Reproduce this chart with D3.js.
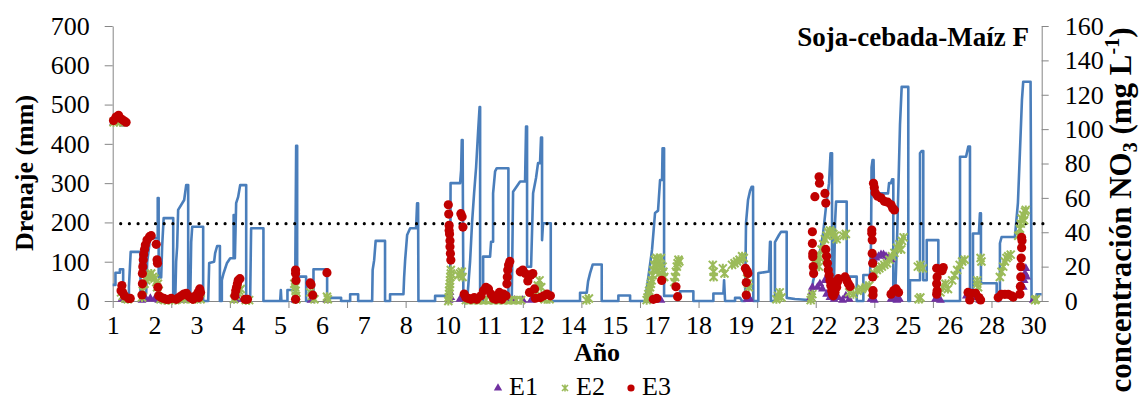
<!DOCTYPE html>
<html><head><meta charset="utf-8">
<script src="https://cdn.jsdelivr.net/npm/d3@7"></script>
<style>body{margin:0;background:#fff}</style>
</head><body>
<svg id="c" width="1144" height="402"></svg>
<script>
// ---- data ----
const xLabels = ["1","2","3","4","5","6","7","8","10","11","12","14","15","17","18","19","21","22","23","25","26","28","30"];
const leftTicks = [0,100,200,300,400,500,600,700];
const rightTicks = [0,20,40,60,80,100,120,140,160];
const umbralNO3 = 45;
const chartTitle = "Soja-cebada-Maíz F";
const seriesNames = ["E1","E2","E3"];

// drainage (mm) along the period index
const drenaje = [[0,41],[0.33,41],[0.33,72],[0.86,72],[0.86,81],[1.25,81],[1.25,0],[1.94,0],[1.94,37],[2.15,125],[3.32,125],[3.32,20],[4.0,20],[4.12,100],[4.48,160],[5.38,160],[5.38,262],[5.49,262],[5.49,60],[5.79,60],[5.91,140],[6.09,211],[7.23,211],[7.23,0],[7.47,0],[7.58,100],[7.70,138],[7.82,232],[8.54,257],[8.78,295],[9.02,295],[9.02,0],[9.26,0],[9.38,150],[9.50,189],[10.81,189],[10.81,0],[11.41,0],[11.53,97],[12.12,100],[12.24,122],[12.48,140],[12.81,140],[12.81,0],[13.04,0],[13.04,53],[13.24,70],[13.64,96],[14.04,109],[14.45,109],[14.45,219],[14.60,219],[14.60,109],[14.75,249],[14.99,265],[15.23,295],[15.95,295],[15.95,0],[16.42,0],[16.54,185],[18.01,185],[18.01,0],[20.01,0],[20.09,28],[20.16,0],[20.88,0],[20.88,28],[21.80,28],[21.92,395],[22.04,395],[22.04,62],[23.11,62],[23.11,0],[23.99,0],[23.99,81],[25.62,81],[25.62,8],[27.29,8],[27.29,0],[28.37,0],[28.37,17],[29.33,17],[29.33,0],[31.00,0],[31.06,79],[31.24,104],[31.42,153],[32.54,153],[32.54,0],[33.14,0],[33.14,17],[34.74,17],[34.82,60],[34.94,104],[35.18,168],[35.54,185],[36.25,185],[36.37,249],[36.49,249],[36.53,0],[38.52,0],[38.52,13],[39.92,13],[39.92,0],[40.32,0],[40.37,300],[41.51,300],[41.63,333],[41.71,410],[41.81,410],[41.90,0],[42.35,0],[42.70,100],[42.94,200],[43.18,274],[43.42,340],[43.66,431],[43.84,494],[43.90,494],[43.90,0],[44.26,0],[44.26,113],[45.09,113],[45.21,151],[45.45,151],[45.45,274],[45.69,330],[45.89,338],[47.28,338],[47.28,0],[47.68,0],[47.84,278],[48.68,304],[49.27,304],[49.39,444],[49.51,444],[49.51,87],[49.99,87],[50.23,274],[50.58,313],[50.82,351],[51.06,351],[51.18,416],[51.30,416],[51.30,155],[51.42,198],[52.34,198],[52.34,0],[55.84,0],[55.84,21],[56.64,21],[56.80,50],[57.04,71],[57.36,93],[58.43,93],[58.43,0],[60.42,0],[60.42,14],[61.82,14],[61.82,0],[63.61,0],[63.85,37],[64.44,130],[64.80,224],[65.16,230],[65.40,308],[65.64,308],[65.70,389],[65.88,389],[65.88,13],[67.79,13],[67.79,25],[69.38,25],[69.38,0],[71.77,0],[71.77,19],[72.97,19],[73.05,53],[73.17,0],[74.36,0],[74.36,8],[74.96,8],[75.20,0],[75.56,0],[75.67,198],[75.91,257],[76.15,280],[76.35,291],[76.51,291],[76.54,0],[77.14,0],[77.14,71],[78.42,75],[78.54,151],[78.62,151],[78.65,0],[79.13,0],[79.13,150],[79.61,168],[79.85,176],[80.53,176],[80.53,8],[81.52,5],[82.72,3],[83.32,3],[83.44,0],[83.68,50],[84.27,100],[84.87,170],[85.23,240],[85.59,300],[85.77,376],[85.95,376],[85.95,53],[86.19,53],[86.31,200],[86.43,253],[87.70,253],[87.70,62],[88.90,62],[88.90,0],[89.69,0],[89.69,66],[90.49,66],[90.61,150],[90.67,340],[90.79,359],[90.91,359],[90.97,265],[91.45,265],[91.57,274],[92.64,274],[92.76,300],[93.00,300],[93.12,310],[93.27,310],[93.27,0],[93.47,0],[93.71,150],[93.95,350],[94.07,450],[94.27,545],[95.06,545],[95.06,0],[95.26,0],[95.26,53],[96.46,53],[96.46,376],[96.66,382],[96.85,382],[96.85,53],[97.26,53],[97.26,155],[98.65,155],[98.65,0],[101.24,0],[101.24,367],[101.96,367],[102.23,393],[102.43,393],[102.43,0],[102.79,0],[102.79,172],[103.50,172],[103.62,223],[103.74,223],[103.74,45],[105.62,45],[105.62,0],[106.01,0],[106.01,147],[106.21,163],[107.80,163],[108.16,250],[108.40,380],[108.64,512],[108.79,558],[109.67,558],[109.79,0],[110.39,0],[110.39,17],[110.99,17]];

// NO3 concentration (mg/L) per sampling
const e1 = [[0.1,104],[0.5,104],[0.9,104],[1.3,103],[1.1,1],[1.6,0.5],[3.5,0.5],[4.0,1],[4.5,1.5],[5.0,1],[5.5,0.5],[6.0,0.5],[8.0,0.5],[9.0,0.5],[10.0,0.5],[14.6,0.5],[15.0,1],[16.0,0.5],[21.8,0.5],[23.7,0.5],[25.6,0.5],[40.2,0.5],[40.4,2],[40.3,5],[41.5,1],[42.5,0.5],[43.5,0.5],[46.0,0.5],[47.0,0.5],[48.0,0.5],[49.0,0.5],[50.0,0.5],[64.0,0.5],[65.5,0.5],[75.8,1],[76.0,2],[76.1,1],[83.4,2],[83.5,5],[83.6,8],[84.2,8],[84.5,10],[84.8,7],[85.1,12],[85.3,4],[85.7,2],[86.2,1],[86.7,2],[87.2,0.5],[87.6,3],[88.0,1],[90.9,24],[91.2,25],[91.5,26],[91.8,27],[92.1,27],[92.4,26],[92.7,25],[93.0,24],[90.6,1],[90.8,2],[91.0,0.5],[93.0,1],[93.3,2],[93.7,0.5],[94.0,1],[98.3,1],[98.6,2],[98.9,0.5],[102.0,3],[102.4,1],[102.8,4],[103.2,2],[103.6,0.5],[108.8,8],[108.9,12],[109.0,16],[109.1,19],[109.2,14],[110.0,0.5]];

const e2 = [[0.1,104],[0.5,105],[0.9,104],[1.3,104],[1.0,5],[1.2,3],[1.5,1.5],[1.8,1],[3.5,2],[3.6,6],[3.8,10],[4.0,12],[4.2,14],[4.4,15],[4.6,16],[4.8,14],[5.0,13],[5.2,11],[5.4,10],[5.5,6],[5.3,8],[5.7,1],[6.2,0.5],[6.7,0.5],[7.5,0.5],[8.5,1],[9.5,1],[10.5,1],[14.5,1],[14.7,3],[14.9,5],[15.1,6],[15.3,7],[15.9,0.5],[16.3,0.5],[21.7,10],[21.8,8],[21.85,6],[21.9,3],[21.95,1],[23.6,5],[23.8,3],[24.1,1],[25.6,2.5],[25.7,1],[40.1,0],[40.15,2],[40.2,4],[40.2,6],[40.25,8],[40.3,10],[40.3,12],[40.35,14],[40.4,16],[40.4,18],[41.3,15],[41.5,16],[41.7,17],[41.8,14],[42.2,0.5],[42.8,0.5],[43.4,0.5],[44,0.5],[44.6,0.5],[45.2,0.5],[45.8,0.5],[46.4,0.5],[47,0.5],[47.6,0.5],[48.2,0.5],[48.8,0.5],[50.6,6],[50.8,9],[51.0,12],[51.2,8],[51.6,1],[52.2,1],[56.6,0.5],[56.9,1.5],[63.8,0.5],[63.9,2],[64.0,4],[64.1,6],[64.2,8],[64.3,10],[64.4,12],[64.5,15],[64.6,18],[64.7,21],[64.8,24],[65.0,25],[65.2,23],[65.4,21],[65.5,25],[65.7,20],[65.8,17],[65.9,14],[64.9,20],[65.1,18],[65.3,16],[67.1,11],[67.2,14],[67.3,17],[67.4,20],[67.5,22],[67.6,24],[67.7,23],[71.7,21],[71.8,17],[71.8,14],[72.9,19],[73.1,16],[74.0,21],[74.3,22],[74.6,23],[74.9,24],[75.2,26],[75.4,25],[75.8,13],[75.9,10],[76.0,8],[79.3,1],[79.5,3],[79.7,5],[79.9,2],[83.4,0.5],[83.5,2],[83.6,4],[83.9,22],[84.1,24],[84.3,26],[84.4,20],[84.5,25],[84.7,30],[84.9,33],[85.1,36],[85.3,38],[85.5,40],[85.7,41],[85.9,40],[86.1,39],[86.3,38],[86.5,36],[87.3,38],[87.6,39],[88.0,5],[88.5,4],[89.0,6],[89.5,7],[90.0,8],[90.4,9],[90.7,5],[91.0,16],[91.3,18],[91.6,19],[91.9,20],[92.2,21],[92.5,22],[92.8,24],[93.1,26],[93.4,28],[93.7,31],[94.0,33],[94.3,35],[94.5,37],[94.2,30],[96.2,20],[96.5,21],[96.8,19],[96.3,1],[96.5,2],[98.9,5],[99.2,8],[99.5,10],[99.8,7],[100.3,12],[100.6,15],[100.9,18],[101.2,21],[101.5,23],[101.8,24],[103.3,12],[103.3,10],[103.4,8],[103.7,25],[103.8,23],[106.0,14],[106.2,17],[106.4,20],[106.6,23],[106.8,25],[107.0,26],[107.3,27],[108.2,38],[108.4,42],[108.5,45],[108.6,48],[108.8,50],[109.0,52],[109.1,53],[108.9,47],[110.2,0.5],[110.3,1]];

const e3 = [[0.1,105],[0.4,107],[0.7,108],[1.0,106],[1.3,105],[1.6,104],[1.0,6],[1.1,9],[1.2,5],[1.4,3],[1.9,1.5],[2.1,1.5],[3.5,3.5],[3.55,10],[3.55,16],[3.6,20],[3.65,24],[3.7,27],[3.8,30],[3.9,32.6],[4.1,35.5],[4.4,37.4],[4.6,38],[5.2,33],[5.3,24],[5.35,22],[5.4,8],[5.5,3],[5.8,2],[6.1,1.5],[6.4,1],[6.7,1],[7.0,1.5],[7.6,1],[7.9,2],[8.2,3],[8.5,4],[8.8,4.5],[9.0,3],[9.3,2],[9.6,1],[9.9,3],[10.2,5],[10.4,7],[10.5,5],[10.3,2],[14.6,3],[14.7,6],[14.8,8],[14.9,10],[15.0,12],[15.2,13],[15.8,1],[16.1,1],[21.85,18],[21.85,16],[21.9,12],[21.85,1],[23.6,10.5],[23.7,9.5],[23.9,3.4],[25.6,16.5],[40.1,56],[40.15,50.6],[40.2,44],[40.2,41],[40.25,39],[40.3,35],[40.3,31.6],[40.35,27.7],[40.4,23.8],[41.6,50.8],[41.75,49],[41.85,43],[42.0,4],[42.2,2],[42.5,1.5],[42.8,1],[43.2,2],[43.5,1],[44.0,3],[44.3,6],[44.6,8],[44.9,7],[45.2,4],[45.5,1.5],[45.8,1],[46.1,2],[46.4,3],[46.7,4],[46.2,5],[46.5,1],[47.0,3],[47.1,10],[47.15,14],[47.2,18],[47.3,21],[47.45,23],[48.7,17],[49.0,18],[49.3,16],[49.6,11.7],[49.8,5],[49.95,15],[50.2,16],[50.4,7],[50.5,1.6],[51.1,2],[51.5,3],[51.9,4],[52.3,3],[64.6,1],[65.0,1.5],[65.6,12],[67.3,8.3],[67.5,2.5],[75.6,19],[75.8,17.5],[75.9,16],[75.7,10.7],[75.7,3.5],[83.6,40.3],[83.6,33.5],[83.65,27.7],[83.65,25.8],[83.7,20],[83.75,16],[83.9,60.7],[84.4,72.3],[84.45,68.5],[85.1,62.6],[85.2,57],[85.2,30],[85.3,26],[85.4,22],[85.5,18],[85.6,15],[85.7,12],[85.8,9],[85.9,6],[86.0,4],[86.1,3],[86.3,5],[86.5,8],[86.6,11],[86.7,13],[87.5,14],[87.7,12],[87.9,10],[88.1,8.5],[90.7,41.3],[90.7,39.4],[90.75,35.5],[90.75,27.7],[90.8,22],[90.8,14],[90.85,6],[90.85,3.5],[90.9,68.5],[91.0,66],[91.1,63],[91.4,61],[91.8,60],[92.2,58],[92.6,57.5],[93.0,56],[93.2,54],[93.4,53],[93.0,4],[93.3,6],[93.6,7],[93.9,5],[98.45,19],[98.5,14],[98.45,10],[98.5,6],[98.45,4],[99.24,19.5],[99.1,17.6],[102.2,5],[102.6,4.5],[103.1,4.5],[103.5,2],[102.4,0.6],[103.7,0.6],[105.8,2],[106.2,3.9],[106.6,3.9],[107.0,3.9],[107.4,3],[107.6,2.3],[108.4,4],[108.45,8.5],[108.5,14],[108.5,20],[108.55,25],[108.6,31],[108.65,35],[108.6,37]];

// ---- drawing ----
const svg = d3.select("#c");
const P = {l:112.7, r:1041.7, t:26, b:301};
const FONT = "'Liberation Serif','Times New Roman',serif";
const AXC = "#868686";
const C = {line:"#4A7EBB", e1:"#7030A0", e2:"#9BBB59", e3:"#C00000"};

const x = d3.scaleLinear().domain([0,111]).range([P.l, P.r]);
const yL = d3.scaleLinear().domain([0,700]).range([P.b, P.t]);
const yR = d3.scaleLinear().domain([0,160]).range([P.b, P.t]);

function styleAxis(g){
  g.selectAll("path,line").attr("stroke", AXC).attr("stroke-width",1);
  g.selectAll("text").attr("font-family",FONT).attr("font-size","26px").attr("fill","#000");
}

// left axis
svg.append("g").attr("transform",`translate(${P.l},0)`)
  .call(d3.axisLeft(yL).tickValues(leftTicks).tickSize(8).tickSizeOuter(0).tickPadding(15))
  .call(styleAxis);
// right axis
svg.append("g").attr("transform",`translate(${P.r},0)`)
  .call(d3.axisRight(yR).tickValues(rightTicks).tickSize(7).tickSizeOuter(0).tickPadding(16))
  .call(styleAxis);
// bottom axis: tick marks
svg.append("g").attr("transform",`translate(0,${P.b})`)
  .call(d3.axisBottom(x).tickValues(d3.range(0,106,7)).tickSize(7).tickSizeOuter(0).tickFormat(""))
  .call(styleAxis);
// bottom axis: year labels
svg.append("g").attr("transform",`translate(0,${P.b})`)
  .call(d3.axisBottom(x).tickValues(xLabels.map((d,i)=>i*5)).tickSize(0).tickPadding(15).tickFormat((d,i)=>xLabels[i]))
  .call(g=>g.select(".domain").remove())
  .call(styleAxis);

// drainage line
svg.append("path").datum(drenaje)
  .attr("fill","none").attr("stroke",C.line).attr("stroke-width",2.6).attr("stroke-linejoin","round")
  .attr("d", d3.line().x(d=>x(d[0])).y(d=>yL(d[1])));

// threshold dotted line
svg.append("path").datum([[0,umbralNO3],[111,umbralNO3]])
  .attr("fill","none").attr("stroke","#000").attr("stroke-width",3.2)
  .attr("stroke-linecap","round").attr("stroke-dasharray","0,8.7")
  .attr("d", d3.line().x(d=>x(d[0])+8).y(d=>yR(d[1])));

// markers
const tri = d3.symbol().type(d3.symbolTriangle).size(34)();
const star = "M-4,-4L4,4M-4,4L4,-4M0,-4.5L0,4.5";
svg.append("g").selectAll("path").data(e1).join("path")
  .attr("d",tri).attr("fill",C.e1)
  .attr("transform",d=>`translate(${x(d[0])},${yR(d[1])})`);
svg.append("g").selectAll("path").data(e2).join("path")
  .attr("d",star).attr("fill","none").attr("stroke",C.e2).attr("stroke-width",2)
  .attr("transform",d=>`translate(${x(d[0])},${yR(d[1])})`);
svg.append("g").selectAll("circle").data(e3).join("circle")
  .attr("r",4.6).attr("fill",C.e3)
  .attr("cx",d=>x(d[0])).attr("cy",d=>yR(d[1]));

// titles
svg.append("text").attr("x",1029).attr("y",46).attr("text-anchor","end")
  .attr("font-family",FONT).attr("font-size","27px").attr("font-weight","bold").text(chartTitle);
svg.append("text").attr("x",597).attr("y",361).attr("text-anchor","middle")
  .attr("font-family",FONT).attr("font-size","26px").attr("font-weight","bold").text("Año");
svg.append("text").attr("transform","translate(33,173) rotate(-90)").attr("text-anchor","middle")
  .attr("font-family",FONT).attr("font-size","26px").attr("font-weight","bold").text("Drenaje (mm)");
const rt = svg.append("text").attr("transform","translate(1131,210) rotate(-90)").attr("text-anchor","middle")
  .attr("font-family",FONT).attr("font-size","31px").attr("font-weight","bold");
rt.append("tspan").text("concentración NO");
rt.append("tspan").attr("font-size","20px").attr("dy",6).text("3");
rt.append("tspan").attr("dy",-6).text(" (mg L");
rt.append("tspan").attr("font-size","20px").attr("dy",-12).text("-1");
rt.append("tspan").attr("dy",12).text(")");

// legend
const lg = svg.append("g");
const legendX = [498, 565, 631];
const legendY = 388;
lg.append("path").attr("d",d3.symbol().type(d3.symbolTriangle).size(30)()).attr("fill",C.e1)
  .attr("transform",`translate(${legendX[0]},${legendY})`);
lg.append("path").attr("d","M-3,-3L3,3M-3,3L3,-3M0,-3.5L0,3.5").attr("stroke",C.e2).attr("stroke-width",1.6).attr("fill","none")
  .attr("transform",`translate(${legendX[1]},${legendY})`);
lg.append("circle").attr("r",3.6).attr("fill",C.e3).attr("cx",legendX[2]).attr("cy",legendY);
seriesNames.forEach((n,i)=>{
  lg.append("text").attr("x",legendX[i]+11).attr("y",legendY+7).attr("font-family",FONT).attr("font-size","26px").text(n);
});
</script>
</body></html>
